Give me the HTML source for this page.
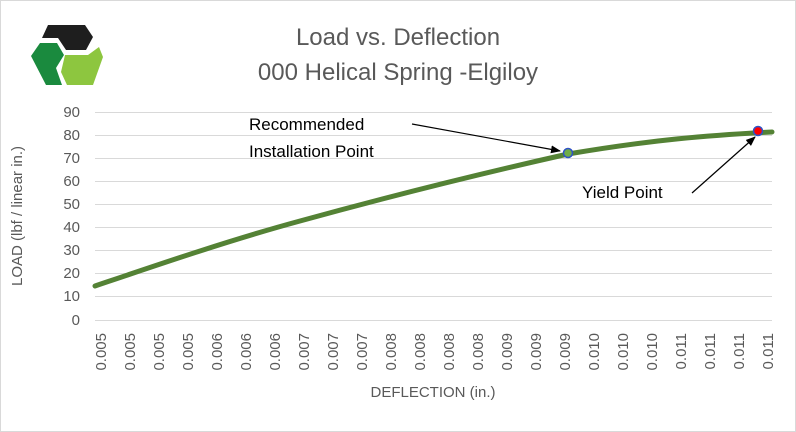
<!DOCTYPE html>
<html><head><style>
body{margin:0;background:#fff;}
svg{display:block;font-family:"Liberation Sans",sans-serif;}
</style></head><body>
<svg width="796" height="432" viewBox="0 0 796 432">
<rect x="0.5" y="0.5" width="795" height="431" fill="#fff" stroke="#d9d9d9"/>
<!-- logo -->
<polygon points="48,25 85,25 93,37 86,50 66,50 58,38 42,38" fill="#1e1e1e"/>
<polygon points="40,43 57,43 64,55 56,68 62,85 46,85 31,56" fill="#1a8a3e"/>
<polygon points="65,55 88,55 99,47 103,57 93,85 67,85 61,72" fill="#8dc63f"/>
<text x="398" y="45" text-anchor="middle" font-size="24" fill="#595959">Load vs. Deflection</text>
<text x="398" y="80" text-anchor="middle" font-size="24" fill="#595959">000 Helical Spring -Elgiloy</text>
<g stroke="#d9d9d9" stroke-width="1">
<line x1="95" x2="772" y1="112.5" y2="112.5"/><line x1="95" x2="772" y1="135.5" y2="135.5"/>
<line x1="95" x2="772" y1="158.5" y2="158.5"/><line x1="95" x2="772" y1="181.5" y2="181.5"/>
<line x1="95" x2="772" y1="204.5" y2="204.5"/><line x1="95" x2="772" y1="227.5" y2="227.5"/>
<line x1="95" x2="772" y1="250.5" y2="250.5"/><line x1="95" x2="772" y1="273.5" y2="273.5"/>
<line x1="95" x2="772" y1="296.5" y2="296.5"/><line x1="95" x2="772" y1="320.5" y2="320.5"/>
</g>
<g font-size="15" fill="#595959" text-anchor="end">
<text x="80" y="117">90</text><text x="80" y="140">80</text><text x="80" y="163">70</text>
<text x="80" y="186">60</text><text x="80" y="209">50</text><text x="80" y="232">40</text>
<text x="80" y="255">30</text><text x="80" y="278">20</text><text x="80" y="301">10</text>
<text x="80" y="325">0</text>
</g>
<text transform="translate(22,216) rotate(-90)" text-anchor="middle" font-size="15" fill="#595959">LOAD (lbf / linear in.)</text>
<g font-size="15" fill="#595959" text-anchor="end" id="xt"></g>
<text x="433" y="397" text-anchor="middle" font-size="15" fill="#595959">DEFLECTION (in.)</text>
<path d="M95,286 C160,264 230,240 300,221 C380,199 470,176 568,154 C650,140 710,135 772,132" fill="none" stroke="#548235" stroke-width="5" stroke-linecap="round"/>
<circle cx="568" cy="153" r="4.5" fill="#70ad47" stroke="#2f52c6" stroke-width="1.5"/>
<circle cx="758" cy="131" r="4.5" fill="#ff0000" stroke="#2f52c6" stroke-width="1.5"/>
<defs><marker id="a" markerWidth="10" markerHeight="8" refX="9" refY="4" orient="auto" markerUnits="userSpaceOnUse"><path d="M0,0 L10,4 L0,8z" fill="#000"/></marker></defs>
<line x1="412" y1="124" x2="560" y2="151" stroke="#000" stroke-width="1.2" marker-end="url(#a)"/>
<line x1="692" y1="193" x2="755" y2="137" stroke="#000" stroke-width="1.2" marker-end="url(#a)"/>
<g font-size="17" fill="#000">
<text x="249" y="130">Recommended</text>
<text x="249" y="157">Installation Point</text>
<text x="582" y="198">Yield Point</text>
</g>
<g font-size="15" fill="#595959" text-anchor="end">
<text transform="translate(106,333) rotate(-90)">0.005</text>
<text transform="translate(135,333) rotate(-90)">0.005</text>
<text transform="translate(164,333) rotate(-90)">0.005</text>
<text transform="translate(193,333) rotate(-90)">0.005</text>
<text transform="translate(222,333) rotate(-90)">0.006</text>
<text transform="translate(251,333) rotate(-90)">0.006</text>
<text transform="translate(280,333) rotate(-90)">0.006</text>
<text transform="translate(309,333) rotate(-90)">0.007</text>
<text transform="translate(338,333) rotate(-90)">0.007</text>
<text transform="translate(367,333) rotate(-90)">0.007</text>
<text transform="translate(396,333) rotate(-90)">0.008</text>
<text transform="translate(425,333) rotate(-90)">0.008</text>
<text transform="translate(454,333) rotate(-90)">0.008</text>
<text transform="translate(483,333) rotate(-90)">0.008</text>
<text transform="translate(512,333) rotate(-90)">0.009</text>
<text transform="translate(541,333) rotate(-90)">0.009</text>
<text transform="translate(570,333) rotate(-90)">0.009</text>
<text transform="translate(599,333) rotate(-90)">0.010</text>
<text transform="translate(628,333) rotate(-90)">0.010</text>
<text transform="translate(657,333) rotate(-90)">0.010</text>
<text transform="translate(686,333) rotate(-90)">0.011</text>
<text transform="translate(715,333) rotate(-90)">0.011</text>
<text transform="translate(744,333) rotate(-90)">0.011</text>
<text transform="translate(773,333) rotate(-90)">0.011</text>
</g>
</svg>
</body></html>
